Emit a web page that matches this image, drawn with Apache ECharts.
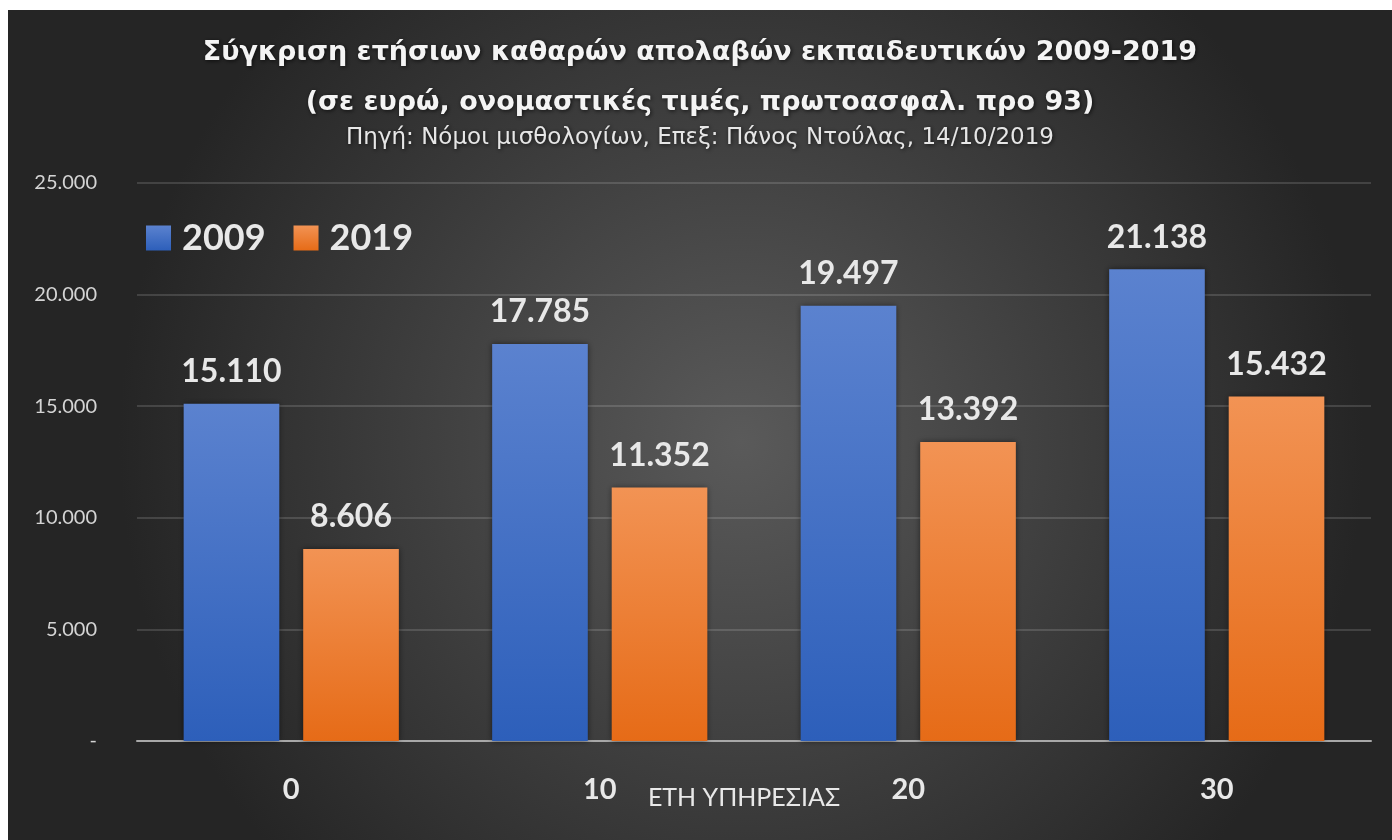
<!DOCTYPE html>
<html>
<head>
<meta charset="utf-8">
<script src="https://cdn.jsdelivr.net/npm/echarts@6/dist/echarts.min.js"></script>
<style>
html,body{margin:0;padding:0;background:#ffffff;width:1392px;height:840px;overflow:hidden;}
#chart{position:absolute;left:8px;top:10px;width:1384px;height:830px;}
</style>
</head>
<body>
<div id="chart"></div>
<script>
const titleLine1 = 'Σύγκριση ετήσιων καθαρών απολαβών εκπαιδευτικών 2009-2019';
const titleLine2 = '(σε ευρώ, ονομαστικές τιμές, πρωτοασφαλ. προ 93)';
const subtitle = 'Πηγή: Νόμοι μισθολογίων, Επεξ: Πάνος Ντούλας, 14/10/2019';
const categories = ['0', '10', '20', '30'];
const xAxisName = 'ΕΤΗ ΥΠΗΡΕΣΙΑΣ';
const seriesNames = ['2009', '2019'];
const values2009 = [15110, 17785, 19497, 21138];
const values2019 = [8606, 11352, 13392, 15432];

function fmt(v){
  if (v === 0) return '-';
  return String(v).replace(/\B(?=(\d{3})+(?!\d))/g, '.');
}

const chart = echarts.init(document.getElementById('chart'), null, {renderer:'canvas'});
const txt = '#e8e8e8';
const titleShadow = {textShadowColor:'rgba(0,0,0,0.7)', textShadowBlur:4, textShadowOffsetX:1, textShadowOffsetY:1};

chart.setOption({
  backgroundColor: {
    type:'radial', x:0.53, y:0.52, r:0.75,
    colorStops:[{offset:0,color:'#5a5a5a'},{offset:1,color:'#252525'}]
  },
  title: [
    {text:titleLine1, left:'center', top:24, textStyle:Object.assign({color:'#f4f4f4', fontFamily:'DejaVu Sans', fontWeight:'bold', fontSize:27}, titleShadow)},
    {text:titleLine2, left:'center', top:74, textStyle:Object.assign({color:'#f4f4f4', fontFamily:'DejaVu Sans', fontWeight:'bold', fontSize:27}, titleShadow)},
    {text:subtitle, left:'center', top:112, textStyle:Object.assign({color:'#e6e6e6', fontFamily:'DejaVu Sans', fontWeight:'normal', fontSize:23}, titleShadow)}
  ],
  legend: {
    left:133, top:205, icon:'rect', itemWidth:25, itemHeight:25, itemGap:28,
    data: seriesNames,
    textStyle:{color:txt, fontFamily:'Lato', fontWeight:'bold', fontSize:36, padding:[0,0,0,6]}
  },
  grid: {left:129, right:21, top:173, bottom:99, containLabel:false},
  xAxis: {
    type:'category', data:categories,
    name:xAxisName, nameLocation:'middle', nameGap:44, nameMoveOverlap:false,
    nameTextStyle:{color:txt, fontFamily:'Lato', fontSize:25, padding:[0,20,0,0]},
    axisLine:{lineStyle:{color:'#a8a8a8', width:2}},
    axisTick:{show:false},
    axisLabel:{color:txt, fontFamily:'Lato', fontWeight:'bold', fontSize:29, margin:34}
  },
  yAxis: {
    type:'value', min:0, max:25000, interval:5000,
    axisLine:{show:false}, axisTick:{show:false},
    splitLine:{lineStyle:{color:'rgba(255,255,255,0.14)', width:2}},
    axisLabel:{color:'#d4d4d4', fontFamily:'Lato', fontSize:20, margin:40, formatter:fmt}
  },
  series: [
    {
      name:seriesNames[0], type:'bar', data:values2009, barWidth:'31%', barGap:'25%',
      itemStyle:{
        color:{type:'linear',x:0,y:0,x2:0,y2:1,colorStops:[{offset:0,color:'#5b82cf'},{offset:1,color:'#2d5fba'}]},
        shadowColor:'rgba(0,0,0,0.5)', shadowBlur:6
      },
      label:{show:true, position:'top', distance:16, color:txt, fontFamily:'Lato', fontWeight:'bold', fontSize:32, formatter:p=>fmt(p.value)}
    },
    {
      name:seriesNames[1], type:'bar', data:values2019, barWidth:'31%',
      itemStyle:{
        color:{type:'linear',x:0,y:0,x2:0,y2:1,colorStops:[{offset:0,color:'#f29354'},{offset:1,color:'#e66b17'}]},
        shadowColor:'rgba(0,0,0,0.5)', shadowBlur:6
      },
      label:{show:true, position:'top', distance:16, color:txt, fontFamily:'Lato', fontWeight:'bold', fontSize:32, formatter:p=>fmt(p.value)}
    }
  ],
  color:['#4472c4','#ed7d31']
});
</script>
</body>
</html>
